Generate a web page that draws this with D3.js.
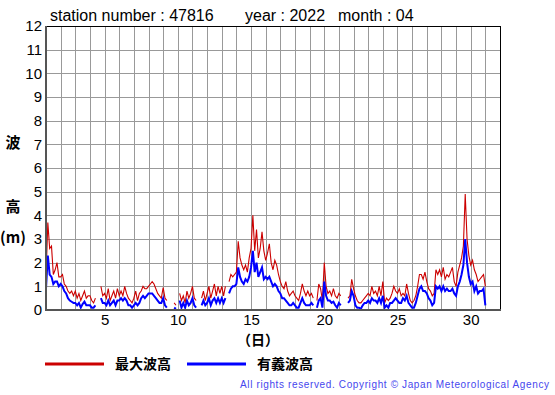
<!DOCTYPE html>
<html>
<head>
<meta charset="utf-8">
<script src="https://cdn.jsdelivr.net/npm/d3@7"></script>
<style>
  body { margin: 0; background: #fff; }
  svg { display: block; font-family: "Liberation Sans", Arial, sans-serif; }
  .cjk { font-family: "Noto Sans CJK JP", sans-serif; font-weight: bold; }
</style>
</head>
<body>
<div id="chart"></div>
<script>
// title parts
var station = "47816", year = "2022", month = "04";

// observations every 3 hours, from day 1 00:00 to day 31 00:00 (null = missing)
var stepHours = 3;
var maxWave = [
  1.4, 3.7, 2.6, 2.7, 1.5, 1.7, 2.0, 1.4,
  1.4, 1.5, 1.1, 1.0, 0.8, 0.7, 0.8, 0.6,
  0.8, 0.5, 0.7, 0.4, 0.6, 0.8, 0.5, 0.6,
  0.6, 0.4, 0.3, 0.5, null, null, 1.0, 0.6,
  0.7, 0.5, 0.9, 0.4, 0.6, 0.8, 0.5, 0.9,
  0.6, 0.8, 0.6, 1.0, 0.7, 0.5, 0.4, 0.3,
  0.5, 0.8, 0.4, 0.7, 0.8, 1.0, 0.9, 0.9,
  1.0, 1.1, 1.2, 1.1, 0.9, 0.7, 0.6, 0.5,
  0.95, 0.5, 0.4, null, null, null, 0.3, 0.2,
  null, 0.7, 0.4, 0.6, 0.3, 0.8, 0.5, 0.7,
  1.0, 0.5, 0.4, null, null, 0.5, 0.8, 0.4,
  0.7, 1.0, 0.5, 0.8, 1.1, 0.6, 1.0, 0.7,
  1.0, 0.6, 1.0, null, 1.2, 1.5, 1.4, 1.5,
  1.6, 2.9, 2.2, 1.9, 1.7, 1.9, 1.6, 2.2,
  2.6, 4.0, 2.5, 3.4, 2.2, 2.6, 3.3, 2.5,
  2.1, 2.4, 2.8, 2.0, 1.7, 2.1, 1.9, 1.5,
  1.2, 1.0, 0.9, 1.2, 0.8, 0.6, 0.7, 0.8,
  0.6, 0.5, 0.4, 0.7, 1.1, 0.8, 0.6, 0.8,
  0.6, 0.7, 0.5, null, 0.4, 1.1, 0.9, 0.4,
  2.0, 1.0, 0.7, 0.8, 0.6, 0.9, 0.6, 0.5,
  0.7, 0.6, null, null, null, 0.5, 0.6, 1.3,
  0.9, 0.6, 0.4, 0.3, 0.3, 0.4, 0.5, 0.6,
  0.7, 0.6, 1.0, 0.7, 0.8, 0.6, 1.0, 0.6,
  1.2, 0.3, 0.5, 0.4, 0.5, 0.7, 1.0, 0.8,
  0.7, 0.9, 0.6, 0.7, 0.6, 1.1, 0.7, 0.4,
  0.3, 0.4, 0.6, 1.0, 1.5, 1.5, 1.3, 1.6,
  1.2, 0.9, 0.8, 0.6, 0.7, 1.7, 1.5, 1.7,
  1.4, 1.8, 1.3, 1.5, 1.4, 1.6, 1.8, 1.2,
  1.0, 1.6, 1.9, 2.2, 2.7, 4.9, 3.0, 2.3,
  1.9, 2.1, 1.7, 1.5, 1.2, 1.3, 1.4, 1.5,
  1.0
];
var sigWave = [
  0.9, 2.3, 1.5, 1.4, 1.1, 1.2, 1.2, 1.0,
  1.1, 1.0, 0.8, 0.7, 0.5, 0.4, 0.35, 0.3,
  0.3, 0.2, 0.3, 0.1, 0.25, 0.35, 0.2, 0.2,
  0.2, 0.1, 0.1, 0.2, null, null, 0.5, 0.3,
  0.3, 0.2, 0.4, 0.2, 0.3, 0.4, 0.2, 0.4,
  0.4, 0.5, 0.4, 0.5, 0.4, 0.2, 0.2, 0.1,
  0.2, 0.3, 0.2, 0.3, 0.5, 0.6, 0.5, 0.6,
  0.7, 0.7, 0.7, 0.6, 0.5, 0.4, 0.3, 0.3,
  0.5, 0.2, 0.1, null, null, null, 0.1, 0.05,
  null, 0.4, 0.1, 0.3, 0.1, 0.4, 0.2, 0.3,
  0.5, 0.2, 0.1, null, null, 0.2, 0.4, 0.2,
  0.3, 0.5, 0.2, 0.4, 0.5, 0.3, 0.5, 0.3,
  0.5, 0.3, 0.5, null, 0.7, 0.9, 1.0, 1.0,
  1.1, 1.8, 1.4, 1.2, 1.1, 1.3, 1.2, 1.4,
  1.8, 2.5, 1.6, 2.0, 1.4, 1.6, 1.8, 1.3,
  1.4, 1.3, 1.4, 1.2, 1.0, 1.1, 1.0, 0.8,
  0.7, 0.5, 0.5, 0.4, 0.3, 0.2, 0.2, 0.3,
  0.2, 0.1, 0.1, 0.3, 0.5, 0.3, 0.2, 0.2,
  0.2, 0.3, 0.2, null, 0.1, 0.4, 0.5, 0.1,
  1.2, 0.6, 0.4, 0.4, 0.3, 0.35, 0.2, 0.1,
  0.3, 0.2, null, null, null, 0.3, 0.4, 0.8,
  0.6, 0.2, 0.1, 0.1, 0.05, 0.2, 0.3, 0.3,
  0.4, 0.3, 0.5, 0.4, 0.4, 0.3, 0.5, 0.3,
  0.6, 0.1, 0.2, 0.1, 0.3, 0.3, 0.4, 0.5,
  0.4, 0.3, 0.3, 0.5, 0.4, 0.6, 0.3, 0.2,
  0.1, 0.1, 0.3, 0.6, 0.9, 1.0, 0.8, 0.8,
  0.7, 0.5, 0.4, 0.2, 0.3, 1.0, 0.9, 1.0,
  0.8, 1.0, 0.8, 0.9, 0.8, 0.8, 0.9, 0.7,
  0.6, 1.0, 1.2, 1.5, 1.9, 3.0, 2.0, 1.4,
  1.1, 1.2, 0.8, 1.0, 0.7, 0.8, 0.8, 0.9,
  0.2
];

var xTicks = [5, 10, 15, 20, 25, 30];
var yTicks = [0, 1, 2, 3, 4, 5, 6, 7, 8, 9, 10, 11, 12];
var legendNames = ["最大波高", "有義波高"];
var colors = ["#cc0000", "#0000ff"];

var W = 555, H = 395;
// plot box (don't call these top/left, window.top is read-only)
var plotL = 46, plotR = 500, plotT = 26, plotB = 310;

var svg = d3.select("#chart").append("svg")
  .attr("width", W).attr("height", H);

var x = d3.scaleLinear().domain([1, 32]).range([plotL, plotR]);
var y = d3.scaleLinear().domain([0, 12]).range([plotB, plotT]);

// grid
svg.append("g").selectAll("line")
  .data(d3.range(2, 32))
  .join("line")
  .attr("x1", function(d){ return Math.round(x(d)) + 0.5; })
  .attr("x2", function(d){ return Math.round(x(d)) + 0.5; })
  .attr("y1", plotT).attr("y2", plotB)
  .attr("stroke", "#999").attr("stroke-width", 1);

svg.append("g").selectAll("line")
  .data(yTicks.slice(1, -1))
  .join("line")
  .attr("x1", plotL).attr("x2", plotR)
  .attr("y1", function(d){ return Math.round(y(d)) + 0.5; })
  .attr("y2", function(d){ return Math.round(y(d)) + 0.5; })
  .attr("stroke", "#999").attr("stroke-width", 1);

// lines
var pts = function(arr){
  return arr.map(function(v, i){ return {t: 1 + i * stepHours / 24, v: v}; });
};
var line = d3.line()
  .defined(function(d){ return d.v != null; })
  .x(function(d){ return x(d.t); })
  .y(function(d){ return y(d.v); });

svg.append("path").datum(pts(maxWave))
  .attr("fill", "none").attr("stroke", colors[0]).attr("stroke-width", 1.1)
  .attr("d", line);
svg.append("path").datum(pts(sigWave))
  .attr("fill", "none").attr("stroke", colors[1]).attr("stroke-width", 2)
  .attr("d", line);

// frame
svg.append("line").attr("x1", plotL).attr("x2", plotR).attr("y1", plotT + 0.5).attr("y2", plotT + 0.5)
  .attr("stroke", "#000");
svg.append("line").attr("x1", plotR + 0.5).attr("x2", plotR + 0.5).attr("y1", plotT).attr("y2", plotB)
  .attr("stroke", "#000");
svg.append("line").attr("x1", plotL).attr("x2", plotL).attr("y1", plotT).attr("y2", plotB + 1)
  .attr("stroke", "#555").attr("stroke-width", 2);
svg.append("line").attr("x1", plotL - 1).attr("x2", plotR + 1).attr("y1", plotB).attr("y2", plotB)
  .attr("stroke", "#555").attr("stroke-width", 2);

// axes
var yAxis = svg.append("g")
  .attr("transform", "translate(" + plotL + ",0)")
  .call(d3.axisLeft(y).tickValues(yTicks).tickSize(0).tickPadding(4));
yAxis.select(".domain").remove();
yAxis.selectAll("text").attr("font-size", 15).attr("fill", "#000")
  .attr("font-family", "Liberation Sans, Arial, sans-serif");

var xAxis = svg.append("g")
  .attr("transform", "translate(0," + plotB + ")")
  .call(d3.axisBottom(x).tickValues(xTicks).tickSize(0).tickPadding(4));
xAxis.select(".domain").remove();
xAxis.selectAll("text").attr("font-size", 15).attr("fill", "#000")
  .attr("font-family", "Liberation Sans, Arial, sans-serif");

// title
var title = svg.append("g").attr("font-size", 16).attr("fill", "#000");
title.append("text").attr("x", 50).attr("y", 21).text("station number : " + station);
title.append("text").attr("x", 245).attr("y", 21).text("year : " + year);
title.append("text").attr("x", 338).attr("y", 21).text("month : " + month);

// axis labels
svg.append("text").attr("class", "cjk").attr("x", 13).attr("y", 148)
  .attr("text-anchor", "middle").attr("font-size", 15).text("波");
svg.append("text").attr("class", "cjk").attr("x", 13).attr("y", 212)
  .attr("text-anchor", "middle").attr("font-size", 15).text("高");
svg.append("text").attr("class", "cjk").attr("x", 13).attr("y", 243)
  .attr("text-anchor", "middle").attr("font-size", 15).text("(m)");
svg.append("text").attr("class", "cjk").attr("x", 258).attr("y", 345)
  .attr("text-anchor", "middle").attr("font-size", 14).attr("font-weight", "normal").text("（日）");

// legend
var legend = svg.append("g");
var legX = [45, 187];
legendNames.forEach(function(name, i){
  legend.append("line")
    .attr("x1", legX[i]).attr("x2", legX[i] + 59)
    .attr("y1", 364).attr("y2", 364)
    .attr("stroke", colors[i]).attr("stroke-width", 3);
  legend.append("text").attr("class", "cjk")
    .attr("x", legX[i] + 70).attr("y", 369)
    .attr("font-size", 14).text(name);
});

// copyright
svg.append("text")
  .attr("x", 549).attr("y", 388).attr("text-anchor", "end")
  .attr("font-size", 10).attr("fill", "#4646ee")
  .attr("textLength", 309).attr("lengthAdjust", "spacing")
  .text("All rights reserved. Copyright © Japan Meteorological Agency");
</script>
</body>
</html>
